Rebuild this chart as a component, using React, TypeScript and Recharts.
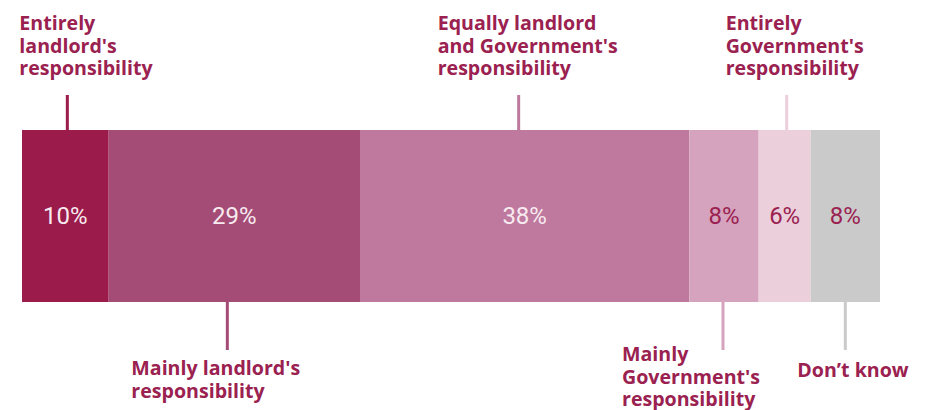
import React from 'react';
import { BarChart, Bar, XAxis, YAxis, LabelList } from 'recharts';

// ---- data ----
const seriesKeys = ['entirelyLandlord', 'mainlyLandlord', 'equally', 'mainlyGov', 'entirelyGov', 'dontKnow'];
const seriesNames = [
  "Entirely landlord's responsibility",
  "Mainly landlord's responsibility",
  "Equally landlord and Government's responsibility",
  "Mainly Government's responsibility",
  "Entirely Government's responsibility",
  'Don’t know',
];
const values = [10, 29, 38, 8, 6, 8];
const labelLines = [
  ['Entirely', "landlord's", 'responsibility'],
  ["Mainly landlord's", 'responsibility'],
  ['Equally landlord', "and Government's", 'responsibility'],
  ['Mainly', "Government's", 'responsibility'],
  ['Entirely', "Government's", 'responsibility'],
  ['Don’t know'],
];
const total = 99;

// ---- styles / layout ----
const fills = ['#9b1b4a', '#a44c76', '#bf799e', '#d5a3bd', '#ebcfdb', '#cacaca'];
const valueColors = ['#f7eaf0', '#f7eaf0', '#f7eaf0', '#9a2150', '#9a2150', '#9a2150'];
const lineColors = ['#9b1b4a', '#a44c76', '#bf799e', '#d5a3bd', '#ebcfdb', '#cacaca'];
const TEXT_COLOR = '#9a2150';
const layout = [
  { side: 'top', lineDx: 2, textDx: -46, firstBaseline: 30 },
  { side: 'bottom', lineDx: -7, textDx: -103, firstBaseline: 375 },
  { side: 'top', lineDx: -6, textDx: -87, firstBaseline: 30 },
  { side: 'bottom', lineDx: -1, textDx: -102, firstBaseline: 361 },
  { side: 'top', lineDx: 2, textDx: -59, firstBaseline: 30 },
  { side: 'bottom', lineDx: 0, textDx: -48, firstBaseline: 377 },
];

const row: Record<string, any> = { name: 'all' };
seriesKeys.forEach((k, i) => {
  row[k] = values[i];
});
const data = [row];

const LINE_HEIGHT = 22.5;

function makeCallout(i: number) {
  return (props: any) => {
    const { x, y, width, height } = props;
    const cx = Number(x) + Number(width) / 2;
    const cfg = layout[i];
    const lx = cx + cfg.lineDx;
    const y1 = cfg.side === 'top' ? Number(y) - 35 : Number(y) + Number(height);
    const y2 = cfg.side === 'top' ? Number(y) : Number(y) + Number(height) + 48;
    return (
      <g>
        <line x1={lx} x2={lx} y1={y1} y2={y2} stroke={lineColors[i]} strokeWidth={3} />
        <text
          x={cx + cfg.textDx}
          y={cfg.firstBaseline}
          fill={TEXT_COLOR}
          fontFamily="'Open Sans', sans-serif"
          fontWeight={700}
          fontSize={19.6}
        >
          {labelLines[i].map((t, j) => (
            <tspan key={j} x={cx + cfg.textDx} y={cfg.firstBaseline + j * LINE_HEIGHT}>
              {t}
            </tspan>
          ))}
        </text>
      </g>
    );
  };
}

function makeValueLabel(i: number) {
  return (props: any) => {
    const { x, y, width, height, value } = props;
    return (
      <text
        x={Number(x) + Number(width) / 2}
        y={Number(y) + Number(height) / 2}
        textAnchor="middle"
        dominantBaseline="central"
        fill={valueColors[i]}
        fontFamily="Roboto, sans-serif"
        fontWeight={400}
        fontSize={24}
      >
        {`${value}%`}
      </text>
    );
  };
}

export default function App() {
  return (
    <div style={{ position: 'absolute', left: 0, top: 0, width: 928, height: 410, background: '#ffffff' }}>
      <BarChart
        width={928}
        height={410}
        data={data}
        layout="vertical"
        margin={{ top: 130, right: 48, bottom: 108, left: 22 }}
        barCategoryGap={0}
        barGap={0}
      >
        <XAxis type="number" domain={[0, total]} hide />
        <YAxis type="category" dataKey="name" hide />
        {seriesKeys.map((k, i) => (
          <Bar
            key={k}
            dataKey={k}
            name={seriesNames[i]}
            stackId="a"
            fill={fills[i]}
            isAnimationActive={false}
          >
            <LabelList dataKey={k} content={makeValueLabel(i)} />
            <LabelList dataKey={k} content={makeCallout(i)} />
          </Bar>
        ))}
      </BarChart>
    </div>
  );
}
